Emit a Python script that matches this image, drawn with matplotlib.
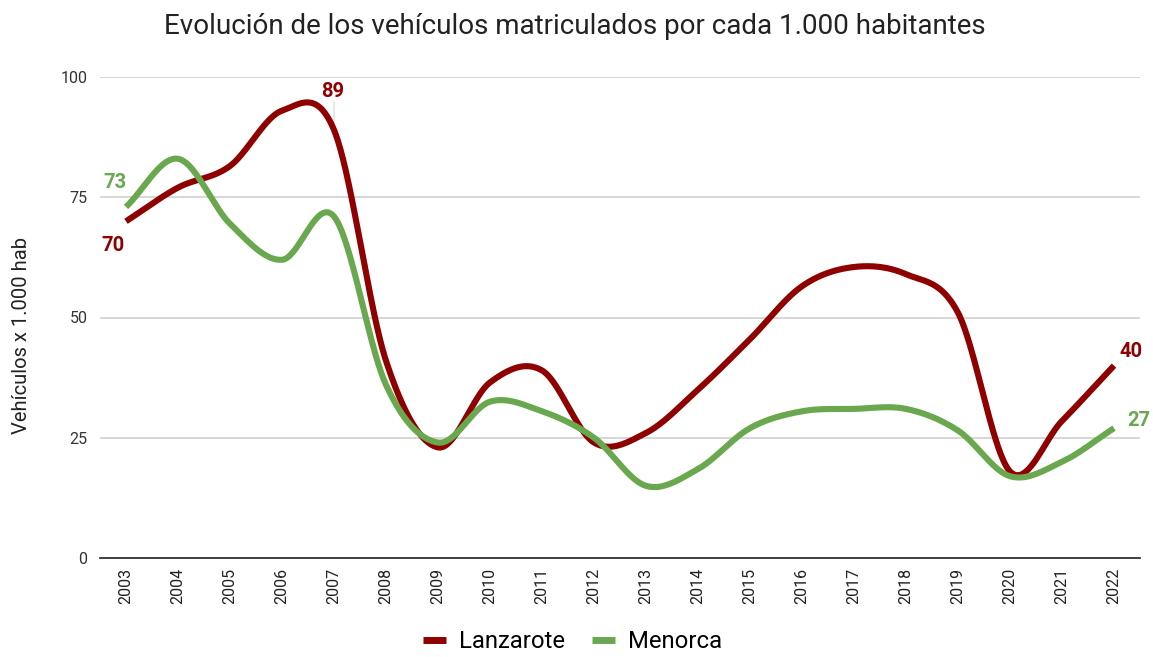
import numpy as np
import matplotlib
matplotlib.use("Agg")
import matplotlib.pyplot as plt
from matplotlib.lines import Line2D

plt.rcParams['font.family'] = ['Roboto', 'DejaVu Sans']

years = [str(y) for y in range(2003, 2023)]
lanzarote = [70, 77, 81.5, 93, 89, 41, 23, 36.5, 39, 24, 26, 35, 45.5, 56.5, 60.5, 59, 51, 18, 28.5, 40]
menorca = [73, 83, 69.5, 62, 71, 36, 24, 32.5, 30.5, 25, 15, 18.5, 27, 30.5, 31, 31, 26.5, 17, 20, 27]
series_names = ["Lanzarote", "Menorca"]
y_ticks = [0, 25, 50, 75, 100]

RED = "#8f0000"
GREEN = "#6aa84f"


def smooth(xs, ys, n=40):
    xs = np.asarray(xs, float)
    ys = np.asarray(ys, float)
    m = np.zeros_like(ys)
    m[1:-1] = (ys[2:] - ys[:-2]) / 2.0
    m[0] = ys[1] - ys[0]
    m[-1] = ys[-1] - ys[-2]
    outx, outy = [], []
    for i in range(len(xs) - 1):
        t = np.linspace(0, 1, n, endpoint=(i == len(xs) - 2))
        h00 = 2 * t**3 - 3 * t**2 + 1
        h10 = t**3 - 2 * t**2 + t
        h01 = -2 * t**3 + 3 * t**2
        h11 = t**3 - t**2
        outy.append(h00 * ys[i] + h10 * m[i] + h01 * ys[i + 1] + h11 * m[i + 1])
        outx.append(xs[i] + t * (xs[i + 1] - xs[i]))
    return np.concatenate(outx), np.concatenate(outy)


fig = plt.figure(figsize=(11.53, 6.57), dpi=100)
ax = fig.add_axes([100 / 1153, 1 - 558 / 657, 1040 / 1153, (558 - 77) / 657])

x = np.arange(len(years))
for vals, col, name in [(lanzarote, RED, series_names[0]), (menorca, GREEN, series_names[1])]:
    sx, sy = smooth(x, vals)
    ax.plot(sx, sy, color=col, lw=4.4, solid_capstyle='butt', zorder=3)

ax.set_xlim(-0.5, len(years) - 0.5)
ax.set_ylim(0, 100)
ax.set_yticks(y_ticks)
ax.set_yticklabels([str(v) for v in y_ticks], fontsize=11.5, color='#333333')
ax.set_xticks(x)
ax.set_xticklabels(years, rotation=90, fontsize=11.5, color='#222222')
ax.tick_params(axis='both', length=0)
ax.tick_params(axis='y', pad=9)
ax.tick_params(axis='x', pad=7)
ax.grid(axis='y', color='#cccccc', lw=1.1, zorder=0)
ax.set_axisbelow(True)
for s in ['top', 'right', 'left']:
    ax.spines[s].set_visible(False)
ax.spines['bottom'].set_color('#333333')
ax.spines['bottom'].set_linewidth(1.3)
ax.spines['bottom'].set_zorder(2)

ax.set_ylabel("Vehículos x 1.000 hab", fontsize=14.5, color='#222222')
ax.yaxis.set_label_coords(-69 / 1040, 0.462)

fig.text(0.4985, 1 - 27 / 657, "Evolución de los vehículos matriculados por cada 1.000 habitantes",
         ha='center', va='center', fontsize=20, color='#222222')

lab_kw = dict(fontsize=14.5, fontweight='bold', ha='center', va='center', textcoords='offset pixels')
ax.annotate(f"{lanzarote[0]:g}", xy=(0, lanzarote[0]), xytext=(-13, -24), color=RED, **lab_kw)
ax.annotate(f"{menorca[0]:g}", xy=(0, menorca[0]), xytext=(-11, 24), color=GREEN, **lab_kw)
ax.annotate(f"{lanzarote[4]:g}", xy=(4, lanzarote[4]), xytext=(-1, 38), color=RED, **lab_kw)
ax.annotate("", xy=(4, lanzarote[4]), xytext=(0, 28), textcoords='offset pixels',
            arrowprops=dict(arrowstyle='-', color='#dddddd', lw=1, shrinkA=0, shrinkB=0), zorder=1)
ax.annotate(f"{lanzarote[-1]:g}", xy=(19, lanzarote[-1]), xytext=(17, 14), color=RED, **lab_kw)
ax.annotate(f"{menorca[-1]:g}", xy=(19, menorca[-1]), xytext=(25, 8), color=GREEN, **lab_kw)

handles = [Line2D([], [], color=RED, lw=5, solid_capstyle='butt'),
           Line2D([], [], color=GREEN, lw=5, solid_capstyle='butt')]
fig.legend(handles, series_names, loc='center', bbox_to_anchor=(0.4965, 1 - 642 / 657),
           ncol=2, frameon=False, fontsize=17.2, handlelength=0.95, handletextpad=0.55,
           columnspacing=1.15)

fig.savefig("out.png", dpi=100)
